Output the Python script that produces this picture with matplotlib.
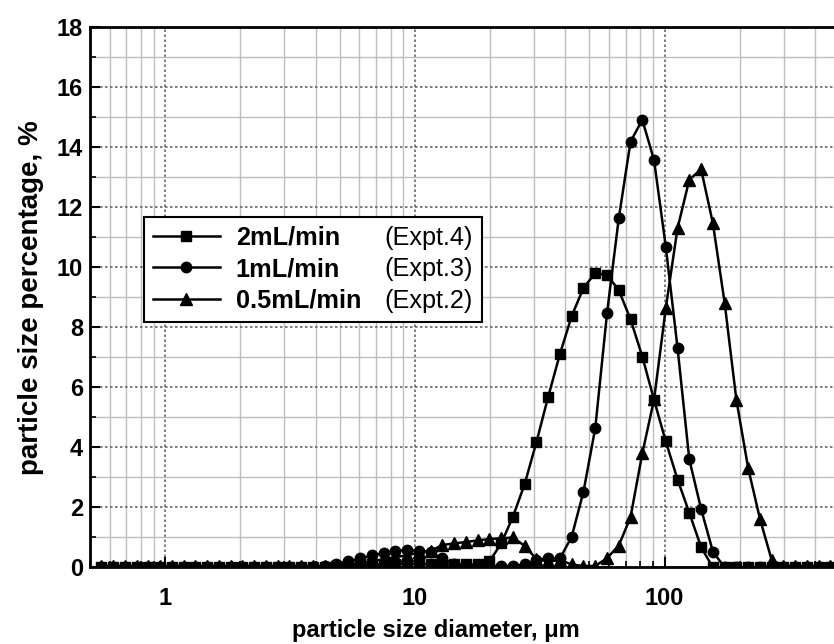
import matplotlib
matplotlib.use('Agg')
import matplotlib.pyplot as plt
from matplotlib.lines import Line2D
from matplotlib.ticker import LogLocator, MultipleLocator, FixedLocator, FixedFormatter, NullFormatter

plt.rcParams['font.family'] = ['Liberation Sans', 'DejaVu Sans']
plt.rcParams['font.weight'] = 'bold'

# particle size bins (um)
diameter = [0.555, 0.618, 0.689, 0.768, 0.856, 0.954, 1.063, 1.185, 1.321, 1.472,
            1.641, 1.829, 2.039, 2.272, 2.532, 2.822, 3.146, 3.506, 3.908, 4.355,
            4.854, 5.410, 6.030, 6.721, 7.491, 8.349, 9.305, 10.37, 11.56, 12.88,
            14.36, 16.00, 17.84, 19.88, 22.16, 24.69, 27.52, 30.68, 34.19, 38.11,
            42.47, 47.34, 52.76, 58.81, 65.54, 73.05, 81.42, 90.75, 101.1, 112.7,
            125.6, 140.0, 156.1, 174.0, 193.9, 216.1, 240.9, 268.4, 299.2, 333.4,
            371.6, 414.2, 461.7]

# 2 mL/min (Expt.4)
flow_2ml = [0.0, 0.0, 0.0, 0.0, 0.0, 0.0, 0.0, 0.0, 0.0, 0.0,
            0.0, 0.0, 0.0, 0.0, 0.0, 0.0, 0.0, 0.0, 0.0, 0.03,
            0.05, 0.08, 0.10, 0.10, 0.12, 0.12, 0.12, 0.12, 0.12, 0.10,
            0.10, 0.10, 0.10, 0.20, 0.80, 1.69, 2.78, 4.18, 5.69, 7.12,
            8.38, 9.32, 9.81, 9.75, 9.24, 8.27, 7.03, 5.58, 4.20, 2.93,
            1.82, 0.68, 0.0, 0.0, 0.0, 0.0, 0.0, 0.0, 0.0, 0.0,
            0.0, 0.0, 0.0]

# 1 mL/min (Expt.3)
flow_1ml = [0.0, 0.0, 0.0, 0.0, 0.0, 0.0, 0.0, 0.0, 0.0, 0.0,
            0.0, 0.0, 0.0, 0.0, 0.0, 0.0, 0.0, 0.0, 0.0, 0.05,
            0.10, 0.20, 0.30, 0.40, 0.48, 0.55, 0.58, 0.56, 0.50, 0.30,
            0.12, 0.08, 0.06, 0.05, 0.05, 0.05, 0.10, 0.25, 0.30, 0.30,
            1.03, 2.53, 4.64, 8.47, 11.64, 14.19, 14.92, 13.57, 10.69, 7.31,
            3.60, 1.95, 0.53, 0.0, 0.0, 0.0, 0.0, 0.0, 0.0, 0.0,
            0.0, 0.0, 0.0]

# 0.5 mL/min (Expt.2)
flow_05ml = [0.05, 0.05, 0.05, 0.05, 0.05, 0.05, 0.05, 0.05, 0.05, 0.05,
             0.05, 0.05, 0.05, 0.05, 0.05, 0.05, 0.05, 0.05, 0.05, 0.05,
             0.05, 0.10, 0.15, 0.20, 0.28, 0.35, 0.40, 0.50, 0.55, 0.75,
             0.80, 0.85, 0.90, 0.95, 0.97, 1.00, 0.72, 0.28, 0.20, 0.25,
             0.10, 0.05, 0.05, 0.31, 0.73, 1.68, 3.80, 5.60, 8.64, 11.31,
             12.92, 13.27, 11.47, 8.81, 5.58, 3.31, 1.62, 0.25, 0.05, 0.05,
             0.05, 0.05, 0.05]

series_labels = ['2mL/min', '1mL/min', '0.5mL/min']
expt_labels = ['(Expt.4)', '(Expt.3)', '(Expt.2)']
x_ticks = [1, 10, 100]
x_tick_labels = ['1', '10', '100']
y_ticks = [0, 2, 4, 6, 8, 10, 12, 14, 16, 18]

fig = plt.figure(figsize=(8.34, 6.44), dpi=100)
ax = fig.add_axes([0.1079, 0.1188, 0.9884, 0.8388])
ax.set_xscale('log')
ax.set_xlim(0.5, 1000)
ax.set_ylim(0, 18)

ax.xaxis.set_major_locator(FixedLocator(x_ticks))
ax.xaxis.set_major_formatter(FixedFormatter(x_tick_labels))
ax.xaxis.set_minor_locator(LogLocator(base=10, subs=range(2, 10)))
ax.xaxis.set_minor_formatter(NullFormatter())
ax.yaxis.set_major_locator(FixedLocator(y_ticks))
ax.yaxis.set_minor_locator(MultipleLocator(1))

ax.set_axisbelow(True)
ax.grid(which='major', color='#666666', linestyle=(0, (1.5, 1.5)), linewidth=1.2)
ax.grid(which='minor', color='#bdbdbd', linestyle='-', linewidth=1.0)

ax.tick_params(which='major', direction='in', length=7, width=1.5, labelsize=17, top=False, right=False)
ax.tick_params(which='minor', direction='in', length=4, width=1.2, top=False, right=False)
ax.tick_params(axis='x', which='major', pad=14)
ax.tick_params(axis='y', which='major', pad=5)
for s in ax.spines.values():
    s.set_linewidth(2.0)

l1, = ax.plot(diameter, flow_2ml, color='black', marker='s', ms=7, lw=1.8)
l2, = ax.plot(diameter, flow_1ml, color='black', marker='o', ms=7.5, lw=1.8)
l3, = ax.plot(diameter, flow_05ml, color='black', marker='^', ms=8.5, lw=1.8)

blank = Line2D([], [], linestyle='none')
leg = ax.legend(handles=[l1, l2, l3, blank, blank, blank],
                labels=series_labels + expt_labels,
                ncol=2, loc='upper left', bbox_to_anchor=(0.0655, 0.6494),
                frameon=True, fancybox=False, edgecolor='black', framealpha=1,
                fontsize=18.2, handlelength=2.65, handletextpad=0.63,
                columnspacing=-2.37, labelspacing=0.30, borderpad=0.35,
                borderaxespad=0)
for t in leg.get_texts()[3:]:
    t.set_fontweight('normal')
leg.get_frame().set_linewidth(1.5)

ax.set_xlabel('particle size diameter, \u03bcm', fontsize=17, fontweight='bold')
ax.xaxis.set_label_coords(0.42, -0.095)
ax.set_ylabel('particle size percentage, %', fontsize=20, fontweight='bold')
ax.yaxis.set_label_coords(-0.056, 0.5)

fig.savefig('out.png', dpi=100)
